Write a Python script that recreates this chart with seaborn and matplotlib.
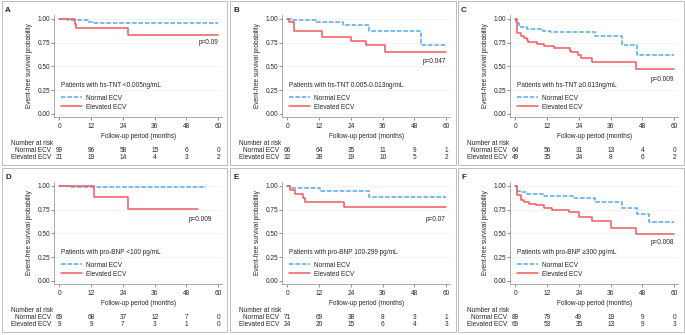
import pandas as pd
import matplotlib
matplotlib.use('Agg')
import matplotlib.pyplot as plt
import matplotlib.transforms as mtransforms
from matplotlib.lines import Line2D
from matplotlib.patches import Rectangle
import seaborn as sns

sns.set_theme(style='white')
plt.rcParams['font.family'] = ['Liberation Sans', 'DejaVu Sans']

# ---- data ----
risk_months = [0, 12, 24, 36, 48, 60]

# A: hs-TNT <0.005
a_norm_t = [0, 3.4, 11.0, 13.2, 60]
a_norm_s = [1, 0.985, 0.97, 0.96, 0.96]
a_elev_t = [0, 5.9, 6.3, 25.8, 60]
a_elev_s = [1, 0.952, 0.905, 0.83, 0.83]
a_risk_norm = [99, 96, 58, 15, 6, 0]
a_risk_elev = [21, 19, 14, 4, 3, 2]

# B: hs-TNT 0.005-0.013
b_norm_t = [0, 1.5, 10.9, 21.0, 30.8, 50.3, 60]
b_norm_s = [1, 0.985, 0.965, 0.933, 0.873, 0.729, 0.729]
b_elev_t = [0, 0.8, 2.5, 13.2, 24.2, 29.6, 36.8, 60]
b_elev_s = [1, 0.97, 0.877, 0.813, 0.764, 0.725, 0.648, 0.648]
b_risk_norm = [66, 64, 35, 11, 9, 1]
b_risk_elev = [32, 28, 19, 10, 5, 2]

# C: hs-TNT >=0.013
c_norm_t = [0, 0.3, 1.4, 4.3, 10.6, 13.0, 30.0, 40.1, 45.8, 60]
c_norm_s = [1, 0.96, 0.92, 0.894, 0.877, 0.859, 0.82, 0.725, 0.623, 0.623]
c_elev_t = [0, 0.5, 2.0, 3.1, 4.3, 4.8, 8.1, 10.9, 14.7, 20.7, 21.2, 23.7,
            24.7, 28.9, 45.5, 60]
c_elev_s = [1, 0.856, 0.82, 0.80, 0.778, 0.754, 0.736, 0.715, 0.69, 0.665,
            0.648, 0.623, 0.59, 0.542, 0.472, 0.472]
c_risk_norm = [64, 56, 31, 13, 4, 0]
c_risk_elev = [49, 35, 24, 8, 6, 2]

# D: pro-BNP <100
d_norm_t = [0, 4.0, 55.2]
d_norm_s = [1, 0.986, 0.986]
d_elev_t = [0, 13.2, 25.8, 52.5]
d_elev_s = [1, 0.889, 0.762, 0.762]
d_risk_norm = [69, 68, 37, 12, 7, 0]
d_risk_elev = [9, 9, 7, 3, 1, 0]

# E: pro-BNP 100-299
e_norm_t = [0, 1.1, 12.2, 30.8, 60]
e_norm_s = [1, 0.982, 0.947, 0.884, 0.884]
e_elev_t = [0, 1.1, 2.8, 5.9, 6.5, 21.3, 60]
e_elev_s = [1, 0.954, 0.919, 0.87, 0.835, 0.779, 0.779]
e_risk_norm = [71, 69, 38, 8, 3, 1]
e_risk_elev = [24, 20, 15, 6, 4, 3]

# F: pro-BNP >=300
f_norm_t = [0, 0.5, 1.7, 4.3, 10.6, 21.9, 30.1, 40.1, 45.8, 50.4, 60]
f_norm_s = [1, 0.947, 0.933, 0.919, 0.895, 0.87, 0.835, 0.764, 0.708, 0.62, 0.62]
f_elev_t = [0, 0.5, 2.0, 3.1, 5.2, 7.7, 10.9, 14.0, 20.3, 24.1, 29.1, 36.0,
            45.5, 60]
f_elev_s = [1, 0.90, 0.85, 0.835, 0.814, 0.80, 0.772, 0.747, 0.726, 0.674,
            0.631, 0.554, 0.49, 0.49]
f_risk_norm = [89, 79, 49, 19, 9, 0]
f_risk_elev = [69, 53, 35, 13, 9, 3]

letters = ['A', 'B', 'C', 'D', 'E', 'F']
subtitles = ['Patients with hs-TNT <0.005ng/mL',
             'Patients with hs-TNT 0.005-0.013ng/mL',
             'Patients with hs-TNT \u22650.013ng/mL',
             'Patients with pro-BNP <100 pg/mL',
             'Patients with pro-BNP 100-299 pg/mL',
             'Patients with pro-BNP \u2265300 pg/mL']
pvalues = ['p=0.09', 'p=0.047', 'p=0.009', 'p=0.009', 'p=0.07', 'p=0.008']
p_ypos = [0.755, 0.555, 0.365, 0.648, 0.648, 0.40]
p_xpos = [60, 60, 60, 57.6, 59.6, 60]

curves = [(a_norm_t, a_norm_s, a_elev_t, a_elev_s),
          (b_norm_t, b_norm_s, b_elev_t, b_elev_s),
          (c_norm_t, c_norm_s, c_elev_t, c_elev_s),
          (d_norm_t, d_norm_s, d_elev_t, d_elev_s),
          (e_norm_t, e_norm_s, e_elev_t, e_elev_s),
          (f_norm_t, f_norm_s, f_elev_t, f_elev_s)]
risks = [(a_risk_norm, a_risk_elev), (b_risk_norm, b_risk_elev),
         (c_risk_norm, c_risk_elev), (d_risk_norm, d_risk_elev),
         (e_risk_norm, e_risk_elev), (f_risk_norm, f_risk_elev)]

# ---- style ----
BLUE = '#55a8f2'
RED = '#f25a5d'
TXT = '#262626'
FS = 4.7
W, H = 685, 335
origins = [(0, 0), (228, 0), (456, 0), (0, 167), (228, 167), (456, 167)]

fig = plt.figure(figsize=(W / 100, H / 100), dpi=100)
fig.patch.set_facecolor('white')


def fx(x):
    return x / W


def fy(y):
    return 1 - y / H


for i, (ox, oy) in enumerate(origins):
    # panel frame
    fig.patches.append(Rectangle((fx(ox + 1.5), fy(oy + 165)), 226 / W, 164 / H,
                                 transform=fig.transFigure, fill=False,
                                 edgecolor='#bdbdbd', lw=0.7))
    fig.text(fx(ox + 5), fy(oy + 10.3), letters[i], fontsize=5.8,
             fontweight='bold', color=TXT, ha='left', va='center')

    ax = fig.add_axes([fx(ox + 54.3), fy(oy + 117.3), 167.7 / W, 102.3 / H])
    nt, ns, et, es = curves[i]
    df = pd.DataFrame({
        'month': list(nt) + list(et),
        'surv': list(ns) + list(es),
        'group': ['Normal ECV'] * len(nt) + ['Elevated ECV'] * len(et),
    })
    sns.lineplot(data=df, x='month', y='surv', hue='group', style='group',
                 hue_order=['Normal ECV', 'Elevated ECV'],
                 style_order=['Normal ECV', 'Elevated ECV'],
                 palette={'Normal ECV': BLUE, 'Elevated ECV': RED},
                 dashes={'Normal ECV': (3, 1.2), 'Elevated ECV': ''},
                 drawstyle='steps-post', estimator=None, sort=False,
                 legend=False, lw=1.1, ax=ax)

    ax.set_xlim(-1.9, 61.4)
    ax.set_ylim(-0.035, 1.042)
    ax.set_xticks(risk_months)
    ax.set_yticks([0, 0.25, 0.5, 0.75, 1.0])
    ax.set_yticklabels(['0.00', '0.25', '0.50', '0.75', '1.00'])
    ax.tick_params(axis='both', labelsize=FS, colors='#666666', labelcolor=TXT,
                   length=2, width=0.5, pad=1.0, direction='out',
                   bottom=True, left=True)
    ax.tick_params(axis='x', pad=2)
    ax.yaxis.grid(True, color='#eef3f6', lw=0.6)
    ax.set_axisbelow(True)
    for s in ['top', 'right']:
        ax.spines[s].set_visible(False)
    for s in ['left', 'bottom']:
        ax.spines[s].set_color('#888888')
        ax.spines[s].set_linewidth(0.5)
    ax.set_facecolor('none')

    ax.set_xlabel('Follow-up period (months)', fontsize=FS, color=TXT)
    ax.set_ylabel('Event-free survival probability', fontsize=FS, color=TXT)
    ax.xaxis.set_label_coords(0.5, -0.153)
    ax.yaxis.set_label_coords(-0.127, 0.51)

    ax.text(0.5, 0.30, subtitles[i], fontsize=FS, color=TXT, ha='left',
            va='center')
    ax.text(p_xpos[i], p_ypos[i], pvalues[i], fontsize=FS, color=TXT,
            ha='right', va='center')

    handles = [Line2D([], [], color=BLUE, lw=1.1, dashes=(3, 1.2)),
               Line2D([], [], color=RED, lw=1.1)]
    leg = ax.legend(handles, ['Normal ECV', 'Elevated ECV'], loc='lower left',
                    bbox_to_anchor=(0.038, 0.065), frameon=False, fontsize=FS,
                    handlelength=3.3, handletextpad=0.6, labelspacing=0.3,
                    borderpad=0, borderaxespad=0)
    for t in leg.get_texts():
        t.set_color(TXT)

    # number at risk table
    trans = mtransforms.blended_transform_factory(ax.transData, fig.transFigure)
    fig.text(fx(ox + 11), fy(oy + 143.3), 'Number at risk', fontsize=FS,
             color=TXT, ha='left', va='center')
    fig.text(fx(ox + 51.5), fy(oy + 150.3), 'Normal ECV', fontsize=FS,
             color=TXT, ha='right', va='center')
    fig.text(fx(ox + 51.5), fy(oy + 157.2), 'Elevated ECV', fontsize=FS,
             color=TXT, ha='right', va='center')
    rn, re_ = risks[i]
    for m, n1, n2 in zip(risk_months, rn, re_):
        fig.text(m, fy(oy + 150.3), str(n1), transform=trans, fontsize=FS,
                 color=TXT, ha='center', va='center')
        fig.text(m, fy(oy + 157.2), str(n2), transform=trans, fontsize=FS,
                 color=TXT, ha='center', va='center')

fig.savefig('out.png', dpi=100, facecolor='white')
